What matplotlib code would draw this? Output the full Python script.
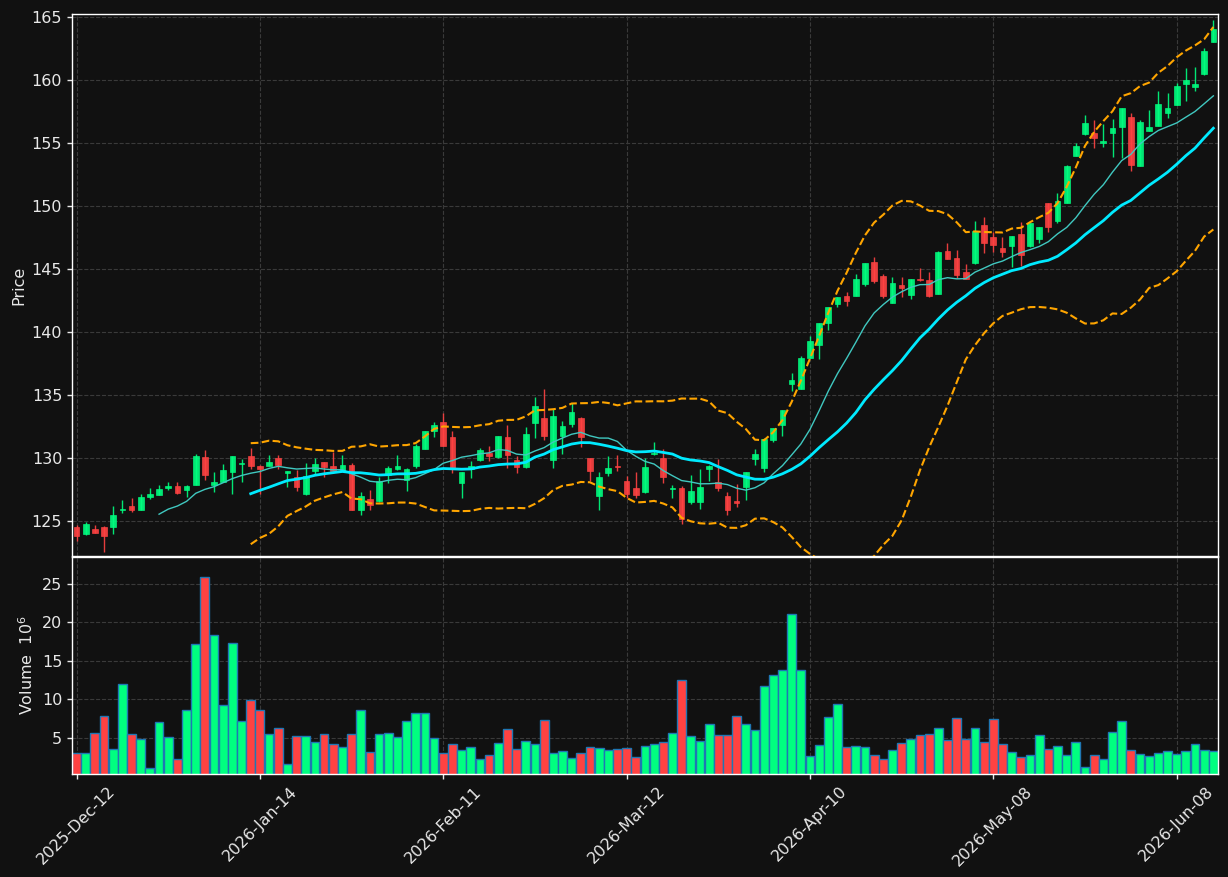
import numpy as np
import pandas as pd
import matplotlib
matplotlib.use('Agg')
import matplotlib.pyplot as plt

# OHLC values (one row per trading day)
opens = [124.52, 123.91, 124.36, 124.52, 124.47, 125.87, 126.19, 125.87, 126.90, 127.06,
         127.62, 127.78, 127.46, 127.86, 130.08, 127.86, 128.10, 128.89, 129.52, 130.16,
         129.36, 129.36, 130.00, 128.76, 128.47, 127.12, 128.92, 129.68, 129.36, 129.00,
         129.44, 125.87, 126.75, 126.53, 128.65, 129.13, 128.20, 129.36, 130.71, 132.09,
         132.88, 131.67, 127.96, 129.10, 129.84, 130.37, 130.03, 131.67, 129.84, 129.23,
         132.80, 133.15, 129.84, 131.77, 132.70, 133.15, 129.97, 126.93, 128.83, 129.37,
         128.17, 127.62, 127.25, 130.27, 129.97, 127.49, 127.62, 126.46, 126.46, 129.10,
         128.10, 126.98, 126.59, 127.72, 129.92, 129.15, 131.43, 132.62, 135.90, 135.48,
         137.94, 138.97, 140.74, 142.25, 142.83, 142.88, 143.81, 145.56, 144.44, 142.33,
         143.73, 142.96, 144.21, 144.13, 143.04, 146.43, 145.85, 144.76, 145.45, 148.49,
         147.57, 146.67, 146.85, 147.78, 146.85, 147.38, 150.20, 148.81, 150.27, 154.00,
         155.72, 155.82, 155.03, 155.82, 156.30, 157.04, 153.20, 155.98, 156.38, 157.41,
         158.02, 159.71, 159.44, 160.48, 163.04]
highs = [124.68, 124.87, 124.66, 124.55, 126.16, 126.64, 126.80, 127.11, 127.59, 127.83,
         128.07, 128.07, 127.86, 130.32, 130.61, 128.86, 129.52, 130.18, 129.92, 130.77,
         129.40, 130.24, 130.24, 128.99, 129.05, 129.58, 129.97, 129.70, 130.50, 130.24,
         129.58, 127.25, 127.46, 128.47, 129.36, 130.24, 129.15, 131.11, 132.16, 132.86,
         133.55, 132.14, 128.91, 129.71, 130.77, 130.90, 131.77, 132.62, 130.11, 132.43,
         134.81, 135.45, 133.86, 132.96, 134.34, 133.28, 129.99, 128.86, 130.11, 130.21,
         128.57, 128.84, 129.97, 131.24, 130.71, 127.86, 127.78, 128.60, 129.10, 129.45,
         129.89, 127.28, 127.91, 128.91, 130.71, 131.61, 132.40, 133.83, 136.72, 138.10,
         139.68, 140.71, 142.00, 142.77, 143.20, 144.58, 145.50, 145.93, 144.60, 144.39,
         144.34, 144.20, 145.11, 144.76, 146.43, 147.04, 146.51, 145.37, 148.81, 149.10,
         147.96, 147.51, 147.64, 148.71, 148.64, 148.33, 150.22, 151.05, 153.23, 154.97,
         157.20, 156.83, 156.48, 156.88, 157.77, 157.36, 156.83, 157.62, 159.15, 158.94,
         159.74, 160.93, 161.01, 162.51, 164.76]
lows = [123.36, 123.90, 124.00, 122.51, 123.94, 125.61, 125.69, 125.85, 126.69, 127.04,
        127.46, 127.09, 126.85, 127.84, 128.20, 127.25, 128.08, 127.12, 128.04, 129.13,
        127.15, 129.34, 129.10, 127.72, 127.33, 127.01, 128.73, 128.47, 128.95, 128.98,
        125.85, 125.45, 125.87, 126.51, 127.99, 129.05, 127.33, 129.18, 130.69, 131.64,
        130.93, 128.83, 126.80, 128.39, 129.71, 129.76, 130.01, 129.18, 128.83, 129.21,
        131.61, 131.38, 129.18, 130.29, 132.43, 130.85, 128.12, 125.87, 128.57, 128.97,
        126.80, 126.80, 127.23, 130.25, 127.99, 126.80, 124.74, 126.35, 125.93, 128.12,
        127.33, 125.42, 126.09, 126.64, 129.45, 128.89, 131.24, 131.77, 135.34, 135.46,
        137.92, 137.83, 140.16, 141.96, 142.09, 142.86, 143.68, 143.86, 142.72, 142.31,
        142.75, 142.62, 144.02, 142.75, 143.02, 145.77, 144.31, 144.21, 145.43, 146.30,
        146.38, 145.98, 145.13, 145.24, 146.72, 147.04, 147.96, 148.62, 150.20, 153.98,
        155.66, 154.58, 154.71, 153.92, 153.78, 152.81, 153.18, 155.96, 156.36, 157.01,
        158.00, 158.36, 159.15, 160.37, 163.02]
closes = [123.76, 124.76, 124.05, 123.76, 125.48, 125.97, 125.87, 126.90, 127.14, 127.51,
          127.78, 127.22, 127.78, 130.16, 128.60, 128.10, 129.05, 130.16, 129.60, 129.31,
          129.13, 129.68, 129.44, 128.97, 127.65, 128.52, 129.52, 129.26, 128.97, 129.42,
          125.87, 126.98, 126.22, 128.18, 129.18, 129.36, 129.13, 130.95, 132.14, 132.62,
          130.95, 129.10, 128.89, 129.37, 130.63, 130.16, 131.75, 130.24, 129.23, 131.91,
          134.13, 131.77, 133.33, 132.54, 133.65, 131.67, 128.99, 128.47, 129.18, 129.23,
          127.14, 127.01, 129.29, 130.40, 128.44, 127.62, 125.13, 127.38, 127.70, 129.31,
          127.62, 125.82, 126.43, 128.89, 130.32, 131.51, 132.38, 133.81, 136.16, 137.94,
          139.29, 140.69, 141.98, 142.75, 142.49, 144.21, 145.48, 144.07, 142.86, 143.86,
          143.52, 144.18, 144.10, 142.88, 146.32, 145.79, 144.55, 144.23, 148.02, 147.09,
          146.90, 146.38, 147.62, 146.11, 148.62, 148.31, 148.36, 150.42, 153.17, 154.76,
          156.56, 155.42, 155.16, 156.16, 157.75, 153.26, 156.64, 156.24, 158.07, 157.75,
          159.52, 160.00, 159.68, 162.30, 164.02]
# volume in millions
volumes = [3.05, 3.05, 5.65, 7.86, 3.57, 12.01, 5.52, 4.87, 1.06, 7.08,
           5.13, 2.27, 8.64, 17.21, 25.91, 18.38, 9.29, 17.34, 7.21, 9.94,
           8.64, 5.52, 6.30, 1.62, 5.26, 5.26, 4.48, 5.52, 4.22, 3.83,
           5.52, 8.64, 3.18, 5.52, 5.65, 5.13, 7.21, 8.25, 8.25, 5.00,
           3.05, 4.22, 3.44, 3.83, 2.27, 2.79, 4.35, 6.17, 3.57, 4.61,
           4.22, 7.34, 3.05, 3.31, 2.40, 3.05, 3.83, 3.70, 3.44, 3.57,
           3.70, 2.53, 3.96, 4.22, 4.48, 5.65, 12.53, 5.26, 4.61, 6.82,
           5.39, 5.39, 7.86, 6.82, 6.04, 11.75, 13.18, 13.83, 21.10, 13.83,
           2.66, 4.09, 7.73, 9.42, 3.83, 3.96, 3.83, 2.79, 2.27, 3.44,
           4.35, 4.87, 5.39, 5.52, 6.30, 4.74, 7.60, 4.87, 6.30, 4.48,
           7.47, 4.22, 3.18, 2.53, 2.79, 5.39, 3.57, 3.96, 2.79, 4.48,
           1.23, 2.79, 2.27, 5.78, 7.21, 3.44, 2.92, 2.66, 3.05, 3.31,
           2.92, 3.31, 4.22, 3.44, 3.31]

tick_pos = [0, 20, 40, 60, 80, 100, 120]
tick_labels = ['2025-Dec-12', '2026-Jan-14', '2026-Feb-11', '2026-Mar-12',
               '2026-Apr-10', '2026-May-08', '2026-Jun-08']

bg = '#111111'
up_col = '#00ff80'
down_col = '#ff4242'
txt = '#e8e8e8'

df = pd.DataFrame({'open': opens, 'high': highs, 'low': lows, 'close': closes, 'volume': volumes})
x = np.arange(len(df))
mav10 = df['close'].rolling(10).mean()
mav20 = df['close'].rolling(20).mean()
std20 = df['close'].rolling(20).std(ddof=0)
bb_up = mav20 + 2 * std20
bb_lo = mav20 - 2 * std20

up = df['close'] >= df['open']
colors = np.where(up, up_col, down_col)

fig = plt.figure(figsize=(12.28, 8.77), dpi=100, facecolor=bg)
ax = fig.add_axes([0.0586, 0.36602, 0.9332, 0.61802])
axv = fig.add_axes([0.0586, 0.11745, 0.9332, 0.24743], sharex=ax)

for a in (ax, axv):
    a.set_facecolor(bg)
    for s in a.spines.values():
        s.set_color('white')
        s.set_linewidth(1.0)
    a.grid(True, color='#3a3a3a', linestyle='--', linewidth=0.8)
    a.set_axisbelow(True)
    a.tick_params(colors=txt, labelsize=11.5, length=3.5, width=1)

# candles: wicks then bodies
ax.vlines(x, df['low'], df['high'], colors=colors, linewidth=1.0, alpha=0.9, zorder=2)
body_lo = np.minimum(df['open'], df['close'])
body_h = np.maximum(np.abs(df['close'] - df['open']), 0.04)
ax.bar(x, body_h, bottom=body_lo, width=0.62, color=colors, edgecolor=colors,
       linewidth=0.5, alpha=0.9, zorder=3)

ax.plot(x, mav10, color='#40c8c0', linewidth=1.0, zorder=4)
ax.plot(x, mav20, color='#00eaff', linewidth=2.0, zorder=4)
ax.plot(x, bb_up, color='#ffa500', linestyle='--', linewidth=1.5, zorder=4)
ax.plot(x, bb_lo, color='#ffa500', linestyle='--', linewidth=1.5, zorder=4)

ax.set_xlim(-0.5, len(df) - 0.5)
ax.set_ylim(122.2, 165.25)
ax.set_yticks(np.arange(125, 166, 5))
ax.set_ylabel('Price', color=txt, fontsize=11.5)
ax.tick_params(axis='x', labelbottom=False, length=0)

axv.bar(x, df['volume'], width=0.96, color=colors, edgecolor='#1f77b4', linewidth=1.0)
axv.set_ylim(0.3 * min(volumes), 1.1 * max(volumes))
axv.set_yticks([5, 10, 15, 20, 25])
axv.set_ylabel('Volume  $10^6$', color=txt, fontsize=11.5)
axv.set_xticks(tick_pos)
axv.set_xticklabels(tick_labels, rotation=45, fontsize=11.5, color=txt)

fig.savefig('out.png', dpi=100, facecolor=bg)
